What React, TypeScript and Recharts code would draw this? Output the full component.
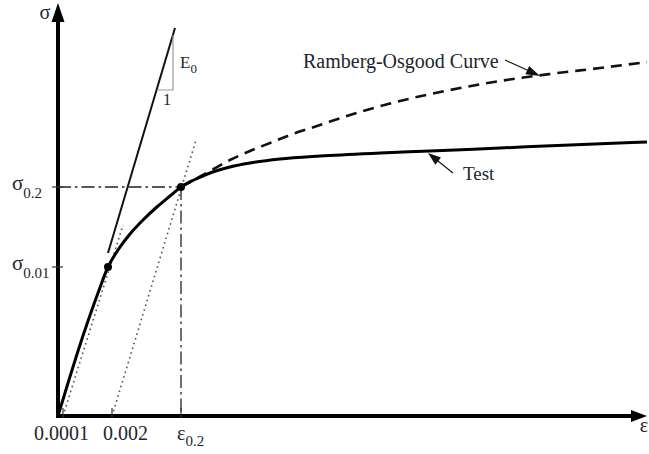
import React from 'react';
import { ComposedChart, Line, XAxis, YAxis, ReferenceLine, ReferenceDot } from 'recharts';

// Schematic stress–strain diagram (abstract units: x = strain, y = stress)
const testCurve = [
  { x: 0, y: 0 }, { x: 10, y: 33 }, { x: 20, y: 65 }, { x: 30, y: 95 }, { x: 40, y: 123 }, { x: 50, y: 149 },
  { x: 60, y: 166 }, { x: 72, y: 182 }, { x: 85, y: 196 }, { x: 100, y: 210 }, { x: 112, y: 220 },
  { x: 123, y: 229 }, { x: 137, y: 236.5 }, { x: 152, y: 243 }, { x: 172, y: 249 }, { x: 192, y: 253 },
  { x: 222, y: 257 }, { x: 262, y: 260 }, { x: 322, y: 263 }, { x: 372, y: 265 }, { x: 442, y: 268 },
  { x: 512, y: 271 }, { x: 589, y: 274 },
];
const rambergOsgood = [
  { x: 123, y: 229 }, { x: 137, y: 236.5 }, { x: 152, y: 245 }, { x: 172, y: 256 }, { x: 192, y: 265 },
  { x: 212, y: 273 }, { x: 232, y: 281 }, { x: 262, y: 291 }, { x: 292, y: 301 }, { x: 342, y: 315 },
  { x: 392, y: 326 }, { x: 442, y: 335 }, { x: 492, y: 342 }, { x: 542, y: 348 }, { x: 589, y: 354 },
];
const tangentE0 = [{ x: 50, y: 163 }, { x: 117, y: 388 }];
const slopeTriangle = [{ x: 99, y: 326 }, { x: 115, y: 326 }, { x: 115, y: 381 }];
const offsetLine1 = [{ x: 5, y: 0 }, { x: 65, y: 191 }];
const offsetLine2 = [{ x: 54, y: 0 }, { x: 138, y: 276 }];
const proofH = [{ x: 0, y: 229 }, { x: 123, y: 229 }];
const proofV = [{ x: 123, y: 229 }, { x: 123, y: 0 }];
const keyPoints = [{ x: 50, y: 149 }, { x: 123, y: 229 }];
const roArrow = [{ x: 447, y: 356 }, { x: 482, y: 340 }];
const testArrow = [{ x: 395, y: 243 }, { x: 370, y: 263 }];

const xDomain = [0, 589];
const yDomain = [0, 413];
const xTickValues = [5, 54, 123];
const xTickLabels = [['0.0001', ''], ['0.002', ''], ['ε', '0.2']];
const yTickValues = [149, 229];
const yTickLabels = [['σ', '0.01'], ['σ', '0.2']];

const FONT = '"Liberation Serif", "Times New Roman", serif';
const TXT = '#22252e';

const arrowShape = (len: number, half: number, color: string, width: number, cap = 'butt') => (p: any) => {
  const { x1, y1, x2, y2 } = p;
  const dx = x2 - x1, dy = y2 - y1;
  const L = Math.hypot(dx, dy) || 1;
  const ux = dx / L, uy = dy / L;
  const bx = x2 - ux * len, by = y2 - uy * len;
  const pts = `${x2},${y2} ${bx - uy * half},${by + ux * half} ${bx + uy * half},${by - ux * half}`;
  return (
    <g>
      <line x1={x1} y1={y1} x2={bx + ux * 1} y2={by + uy * 1} stroke={color} strokeWidth={width} strokeLinecap={cap as any} />
      <polygon points={pts} fill={color} />
    </g>
  );
};

const XTick = (props: any) => {
  const { x, y, index } = props;
  const [main, sub] = xTickLabels[index] || ['', ''];
  const dxs = [-1.5, 13.5, -4];
  const anchors = ['middle', 'middle', 'start'];
  return (
    <g>
      <line x1={x} y1={y - 8} x2={x} y2={y + 2} stroke="#333" strokeWidth={1.2} />
      <text x={x + dxs[index]} y={y + 24} textAnchor={anchors[index] as any} fontFamily={FONT} fontSize={20} fill={TXT}>
        {main}
        {sub ? <tspan fontSize={15} dy={6}>{sub}</tspan> : null}
      </text>
    </g>
  );
};

const YTick = (props: any) => {
  const { x, y, index } = props;
  const [main, sub] = yTickLabels[index] || ['', ''];
  return (
    <g>
      <line x1={x - 6} y1={y} x2={x + 5} y2={y} stroke="#333" strokeWidth={1.2} />
      <text x={12} y={y + 3} textAnchor="start" fontFamily={FONT} fontSize={21} fill={TXT}>
        {main}
        <tspan fontSize={15} dy={8}>{sub}</tspan>
      </text>
    </g>
  );
};

const textAt = (content: React.ReactNode, dx = 0, dy = 0, size = 20, anchor = 'start') => (p: any) => (
  <text x={p.cx + dx} y={p.cy + dy} textAnchor={anchor as any} fontFamily={FONT} fontSize={size} fill={TXT}>
    {content}
  </text>
);

export default function App() {
  return (
    <div style={{ position: 'absolute', left: 0, top: 0, width: 649, height: 454, background: '#fff' }}>
      <ComposedChart width={649} height={454} margin={{ top: 3, right: 2, bottom: 0, left: 0 }}>
        <XAxis
          type="number"
          dataKey="x"
          domain={xDomain}
          ticks={xTickValues}
          interval={0}
          allowDataOverflow
          axisLine={false}
          tickLine={false}
          tickSize={0}
          tickMargin={0}
          height={38}
          tick={(p: any) => <XTick {...p} />}
        />
        <YAxis
          type="number"
          dataKey="y"
          domain={yDomain}
          ticks={yTickValues}
          interval={0}
          allowDataOverflow
          axisLine={false}
          tickLine={false}
          tickSize={0}
          tickMargin={0}
          width={58}
          tick={(p: any) => <YTick {...p} />}
        />

        {/* offset (dotted) lines */}
        <Line data={offsetLine1} dataKey="y" type="linear" stroke="#555" strokeWidth={1.6} strokeDasharray="1.6 3.4" dot={false} activeDot={false} isAnimationActive={false} />
        <Line data={offsetLine2} dataKey="y" type="linear" stroke="#555" strokeWidth={1.6} strokeDasharray="1.6 3.4" dot={false} activeDot={false} isAnimationActive={false} />

        {/* 0.2% proof stress dash-dot guides */}
        <Line data={proofH} dataKey="y" type="linear" stroke="#222" strokeWidth={1.3} strokeDasharray="13 4 2.5 4" dot={false} activeDot={false} isAnimationActive={false} />
        <Line data={proofV} dataKey="y" type="linear" stroke="#222" strokeWidth={1.3} strokeDasharray="13 4 2.5 4" dot={false} activeDot={false} isAnimationActive={false} />

        {/* initial modulus tangent */}
        <Line data={tangentE0} dataKey="y" type="linear" stroke="#111" strokeWidth={2} dot={false} activeDot={false} isAnimationActive={false} />
        <Line data={slopeTriangle} dataKey="y" type="linear" stroke="#999" strokeWidth={1.2} dot={false} activeDot={false} isAnimationActive={false} />

        {/* curves */}
        <Line data={rambergOsgood} dataKey="y" type="monotone" stroke="#111" strokeWidth={2.6} strokeDasharray="11 7" dot={false} activeDot={false} isAnimationActive={false} />
        <Line data={testCurve} dataKey="y" type="monotone" stroke="#000" strokeWidth={3} dot={false} activeDot={false} isAnimationActive={false} />

        {keyPoints.map((p, i) => (
          <ReferenceDot key={i} x={p.x} y={p.y} r={4} fill="#000" stroke="none" ifOverflow="visible" />
        ))}

        {/* axes with arrows */}
        <ReferenceLine segment={[{ x: 0, y: 0 }, { x: xDomain[1], y: 0 }]} shape={arrowShape(16, 6, '#000', 4, 'square')} />
        <ReferenceLine segment={[{ x: 0, y: 0 }, { x: 0, y: yDomain[1] }]} shape={arrowShape(19, 6.5, '#000', 4, 'square')} />

        {/* annotation leaders */}
        <ReferenceLine segment={roArrow} shape={arrowShape(14, 4.5, '#111', 1.1)} />
        <ReferenceLine segment={testArrow} shape={arrowShape(13, 4.5, '#111', 1.1)} />

        {/* texts */}
        <ReferenceDot x={0} y={yDomain[1]} r={0} ifOverflow="visible" shape={textAt('σ', -13, 16, 20, 'middle')} />
        <ReferenceDot x={xDomain[1]} y={0} r={0} ifOverflow="visible" shape={textAt('ε', -3, 16, 20, 'middle')} />
        <ReferenceDot x={245} y={348} r={0} ifOverflow="visible" shape={textAt('Ramberg-Osgood Curve', 0, 0, 20)} />
        <ReferenceDot x={405} y={236} r={0} ifOverflow="visible" shape={textAt('Test', 0, 0, 19)} />
        <ReferenceDot x={122} y={348} r={0} ifOverflow="visible" shape={textAt(<>E<tspan fontSize={13} dy={5}>0</tspan></>, 0, 0, 17)} />
        <ReferenceDot x={105} y={311} r={0} ifOverflow="visible" shape={textAt('1', 0, 0, 16)} />
      </ComposedChart>
    </div>
  );
}
